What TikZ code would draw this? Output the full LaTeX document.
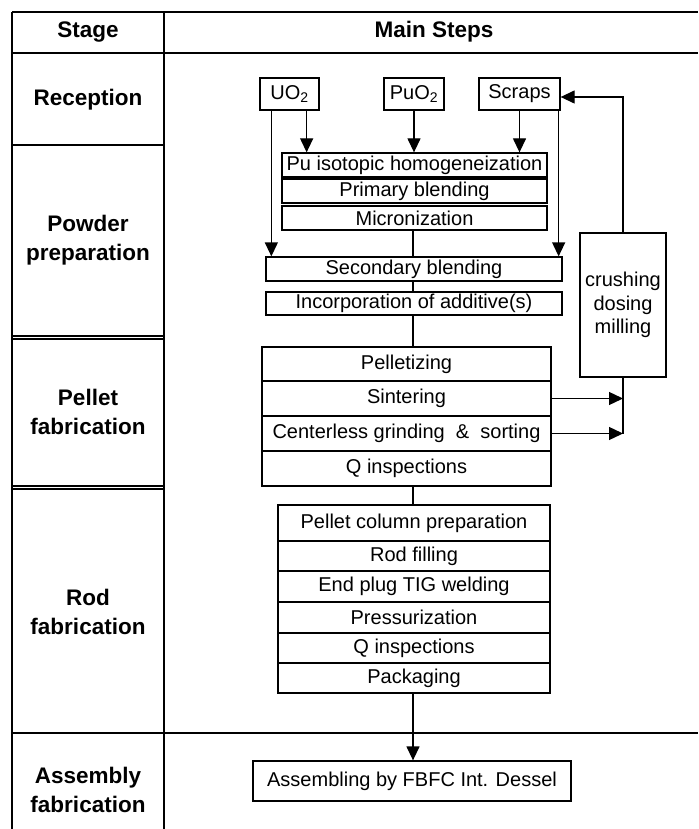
\documentclass[tikz,border=0pt]{standalone}
\usepackage{fontspec}
\setmainfont{Liberation Sans}
\usetikzlibrary{arrows.meta,backgrounds}
\newcommand{\rgfont}{\fontsize{20}{24}\selectfont}
\newcommand{\bdfont}{\bfseries\fontsize{22.5}{29}\selectfont}
\begin{document}
\begin{tikzpicture}[x=1pt,y=-1pt,
  stepbox/.style={draw, line width=1.3pt, fill=white, inner sep=0pt, font=\rgfont},
  lbl/.style={font=\bdfont, align=center, inner sep=0pt},
  conn/.style={line width=1.3pt},
  arr/.style={line width=1.3pt, -{Triangle[length=14pt,width=13pt]}},
  tline/.style={line width=1.6pt},
  thline/.style={line width=2.2pt}]
\useasboundingbox (0,0) rectangle (698,829);

% table frame
\draw[tline] (12,12) -- (698,12);
\draw[thline] (12,53) -- (698,53);
\draw[thline] (12,733) -- (698,733);
\draw[tline] (12,12) -- (12,829);
\draw[tline] (164,12) -- (164,829);
\draw[conn] (12,145) -- (164,145);
\draw[conn] (12,336) -- (164,336);
\draw[conn] (12,339) -- (164,339);
\draw[conn] (12,486) -- (164,486);
\draw[conn] (12,489) -- (164,489);

% stage labels
\node[lbl] (hstage) at (88,32) {Stage};
\node[lbl] (hmain) at (434,32) {Main Steps};
\node[lbl] (srec) at (88,100) {Reception};
\node[lbl] (spow) at (88,240) {Powder\\preparation};
\node[lbl] (spel) at (88,412) {Pellet\\fabrication};
\node[lbl] (srod) at (88,612) {Rod\\fabrication};
\node[lbl] (sasm) at (88,790) {Assembly\\fabrication};

% reception
\node[stepbox, minimum width=59pt, minimum height=32pt] (uo) at (289.5,94) {UO\textsubscript{2}};
\node[stepbox, minimum width=60pt, minimum height=32pt] (puo) at (414,94) {PuO\textsubscript{2}};
\node[stepbox, minimum width=81pt, minimum height=32pt] (scr) at (519.5,94) {Scraps};

% powder preparation
\node[stepbox, minimum width=265pt, minimum height=24pt] (iso) at (414.5,165) {Pu isotopic homogeneization};
\node[stepbox, minimum width=265pt, minimum height=24pt] (prim) at (414.5,191) {Primary blending};
\node[stepbox, minimum width=265pt, minimum height=24pt] (micro) at (414.5,218) {Micronization};
\node[stepbox, minimum width=296pt, minimum height=24pt] (sec) at (414,269) {Secondary blending};
\node[stepbox, minimum width=296pt, minimum height=23pt] (inc) at (414,303.5) {Incorporation of additive(s)};

% recycling
\node[stepbox, minimum width=86pt, minimum height=144pt, align=center, font=\fontsize{20}{23.5}\selectfont] (crush) at (623,305) {crushing\\dosing\\milling};

% pellet fabrication
\node[stepbox, minimum width=289pt, minimum height=34pt] (pelz) at (406.5,364) {Pelletizing};
\node[stepbox, minimum width=289pt, minimum height=35pt] (sint) at (406.5,398.5) {Sintering};
\node[stepbox, minimum width=289pt, minimum height=35pt] (cent) at (406.5,433.5) {Centerless grinding~ \&~ sorting};
\node[stepbox, minimum width=289pt, minimum height=35pt] (qone) at (406.5,468.5) {Q inspections};

% rod fabrication
\node[stepbox, minimum width=272pt, minimum height=36pt] (col) at (414,523) {Pellet column preparation};
\node[stepbox, minimum width=272pt, minimum height=30pt] (fill) at (414,556) {Rod filling};
\node[stepbox, minimum width=272pt, minimum height=31pt] (weld) at (414,586.5) {End plug TIG welding};
\node[stepbox, minimum width=272pt, minimum height=31pt] (press) at (414,617.5) {Pressurization};
\node[stepbox, minimum width=272pt, minimum height=30pt] (qtwo) at (414,648) {Q inspections};
\node[stepbox, minimum width=272pt, minimum height=30pt] (pack) at (414,678) {Packaging};

% assembly
\node[stepbox, minimum width=318pt, minimum height=40pt] (asm) at (412,781) {Assembling by FBFC Int. Dessel};

% connectors behind boxes
\begin{scope}[on background layer]
\draw[conn] ([xshift=-1.5pt]micro.south) -- ([xshift=-1.5pt]micro.south |- pelz.north);
\draw[conn] ([xshift=-1pt]col.north) -- ([xshift=-1pt]col.north |- qone.south);
\end{scope}

% reception arrows
\draw[arr] ([xshift=12pt]uo.south west) -- ([xshift=12pt]uo.south west |- sec.north);
\draw[arr] ([xshift=-13pt]uo.south east) -- ([xshift=-13pt]uo.south east |- iso.north);
\draw[arr] (puo.south) -- (puo.south |- iso.north);
\draw[arr] (scr.south) -- (scr.south |- iso.north);
\draw[arr] ([xshift=-4pt]sec.north east |- scr.south) -- ([xshift=-4pt]sec.north east);

% recycling loop
\coordinate (cend) at (crush.south |- cent.east);
\draw[arr] (crush.north) |- ([yshift=-3pt]scr.east);
\draw[conn] (crush.south) -- (cend);
\draw[arr] (sint.east) -- (sint.east -| crush.south);
\draw[arr] (cent.east) -- (cend);

% to assembly
\draw[arr] ([xshift=-1pt]pack.south) -- ([xshift=-1pt]pack.south |- asm.north);
\end{tikzpicture}
\end{document}
